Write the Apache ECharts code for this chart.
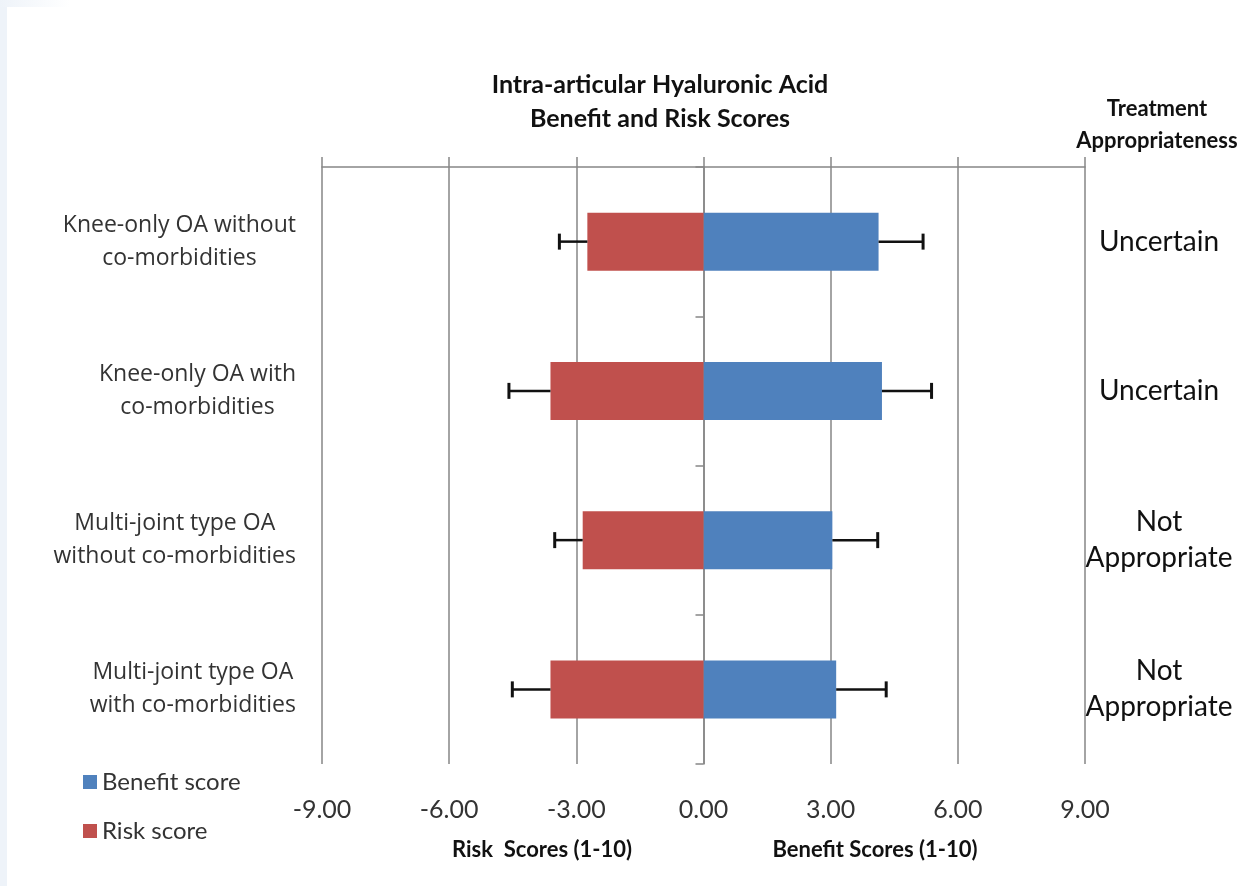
<!DOCTYPE html>
<html><head><meta charset="utf-8">
<script src="https://cdn.jsdelivr.net/npm/echarts@6/dist/echarts.min.js"></script>
<style>html,body{margin:0;padding:0;background:#fff}#c{width:1241px;height:886px}</style>
</head><body><div id="c"></div>
<script>
// ---- data ----
const categories = [
  'Knee-only OA without\nco-morbidities',
  'Knee-only OA with\nco-morbidities',
  'Multi-joint type OA\nwithout co-morbidities',
  'Multi-joint type OA\nwith co-morbidities'
];
const appropriateness = ['Uncertain', 'Uncertain', 'Not\nAppropriate', 'Not\nAppropriate'];
const benefitScores = [4.13, 4.21, 3.04, 3.13];
const benefitErrorEnd = [5.18, 5.38, 4.11, 4.31];
const riskScores = [-2.74, -3.61, -2.85, -3.61];
const riskErrorEnd = [-3.40, -4.59, -3.51, -4.51];
const xMin = -9, xMax = 9, xStep = 3;
const seriesNames = ['Benefit score', 'Risk score'];

// ---- styles ----
const BLUE = '#4F81BD', RED = '#C0504D', GRID = '#868686';
const catRich = {c: {align: 'center', fontFamily: 'Open Sans', fontSize: 23, lineHeight: 33, color: '#333'}};

const errorData = [];
benefitScores.forEach((v, i) => errorData.push([i, v, benefitErrorEnd[i]]));
riskScores.forEach((v, i) => errorData.push([i, v, riskErrorEnd[i]]));

const chart = echarts.init(document.getElementById('c'), null, {renderer: 'canvas'});
chart.setOption({
  backgroundColor: '#ffffff',
  animation: false,
  grid: {left: 322, right: 156, top: 167, bottom: 122, containLabel: false},
  legend: {
    data: seriesNames,
    orient: 'vertical', left: 78, top: 765,
    icon: 'rect', itemWidth: 14, itemHeight: 14, itemGap: 25,
    textStyle: {fontFamily: 'Lato', fontSize: 24, lineHeight: 24, color: '#333', padding: [0, 0, 0, 0]}
  },
  xAxis: [
    {
      type: 'value', position: 'bottom', min: xMin, max: xMax, interval: xStep,
      axisLine: {show: false}, axisTick: {show: false},
      axisLabel: {margin: 33, formatter: v => v.toFixed(2), fontFamily: 'Lato', fontSize: 25, color: '#333'},
      splitLine: {show: true, lineStyle: {color: GRID, width: 1.5}}
    },
    {
      type: 'value', position: 'top', min: xMin, max: xMax, interval: xStep,
      axisLine: {show: true, onZero: false, lineStyle: {color: GRID, width: 1.5}},
      axisTick: {show: true, length: 10, lineStyle: {color: GRID, width: 1.5}},
      axisLabel: {show: false}, splitLine: {show: false}
    }
  ],
  yAxis: [
    {
      type: 'category', data: categories, inverse: true, position: 'left',
      axisLine: {show: false, onZero: false}, axisTick: {show: false}, splitLine: {show: false},
      axisLabel: {margin: 26, formatter: v => v.split('\n').map(l => '{c|' + l + '}').join('\n'), rich: catRich}
    },
    {
      type: 'category', data: categories, inverse: true, position: 'left',
      axisLine: {show: true, onZero: true, lineStyle: {color: GRID, width: 1.5}},
      axisTick: {show: true, length: 8, lineStyle: {color: GRID, width: 1.5}},
      axisLabel: {show: false}, splitLine: {show: false}
    },
    {
      type: 'category', data: appropriateness, inverse: true, position: 'right',
      axisLine: {show: false, onZero: false}, axisTick: {show: false}, splitLine: {show: false},
      axisLabel: {margin: 74, align: 'center', fontFamily: 'Lato', fontSize: 28, lineHeight: 36, color: '#111'}
    }
  ],
  series: [
    {name: seriesNames[0], type: 'bar', data: benefitScores, barWidth: 58, barGap: '-100%',
     itemStyle: {color: BLUE}, xAxisIndex: 0, yAxisIndex: 0, z: 2},
    {name: seriesNames[1], type: 'bar', data: riskScores, barWidth: 58, barGap: '-100%',
     itemStyle: {color: RED}, xAxisIndex: 0, yAxisIndex: 0, z: 2},
    {
      type: 'custom', xAxisIndex: 0, yAxisIndex: 0, z: 5, data: errorData,
      encode: {x: [1, 2], y: 0},
      renderItem: function (params, api) {
        const cat = api.value(0);
        const p0 = api.coord([api.value(1), cat]);
        const p1 = api.coord([api.value(2), cat]);
        return {type: 'group', children: [
          {type: 'line', shape: {x1: p0[0], y1: p0[1], x2: p1[0], y2: p1[1]}, style: {stroke: '#111', lineWidth: 2.5}},
          {type: 'line', shape: {x1: p1[0], y1: p1[1] - 8, x2: p1[0], y2: p1[1] + 8}, style: {stroke: '#111', lineWidth: 3}}
        ]};
      }
    }
  ],
  graphic: [
    {type: 'rect', left: 0, top: 0, shape: {width: 7, height: 886}, style: {fill: '#eef3f9'}, silent: true},
    {type: 'rect', left: 0, top: 0, shape: {width: 70, height: 7},
     style: {fill: new echarts.graphic.LinearGradient(0, 0, 1, 0, [{offset: 0, color: '#eef3f9'}, {offset: 1, color: '#ffffff'}])}, silent: true},
    {type: 'text', x: 660, y: 102, style: {text: 'Intra-articular Hyaluronic Acid\nBenefit and Risk Scores',
      font: 'bold 25px Lato', lineHeight: 34, textAlign: 'center', textVerticalAlign: 'middle', fill: '#111'}},
    {type: 'text', x: 1157, y: 125, style: {text: 'Treatment\nAppropriateness',
      font: 'bold 22px Lato', lineHeight: 32, textAlign: 'center', textVerticalAlign: 'middle', fill: '#111'}},
    {type: 'text', x: 542, y: 850, style: {text: 'Risk  Scores (1-10)', font: 'bold 22px Lato',
      textAlign: 'center', textVerticalAlign: 'middle', fill: '#111'}},
    {type: 'text', x: 875, y: 850, style: {text: 'Benefit Scores (1-10)', font: 'bold 22px Lato',
      textAlign: 'center', textVerticalAlign: 'middle', fill: '#111'}}
  ]
});
</script>
</body></html>
